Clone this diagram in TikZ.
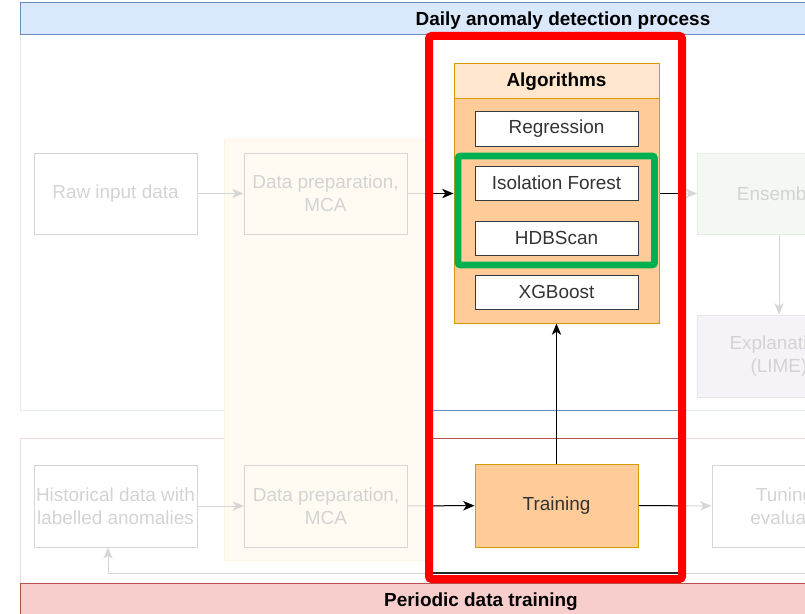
\documentclass[tikz,border=0pt]{standalone}
\usepackage{fontspec}
\setmainfont{Liberation Sans}
\usetikzlibrary{arrows.meta}

% palette
\definecolor{hdrblue}{HTML}{DAE8FC}
\definecolor{lineblue}{HTML}{6C8EBF}
\definecolor{hdrred}{HTML}{F8CECC}
\definecolor{linered}{HTML}{B85450}
\definecolor{orgfill}{HTML}{FFCC99}
\definecolor{orghead}{HTML}{FFE6CC}
\definecolor{orgline}{HTML}{D79B00}
\definecolor{boxline}{HTML}{36393D}
\definecolor{txt}{HTML}{333333}
\definecolor{hlgreen}{HTML}{00B050}
\definecolor{hlred}{HTML}{FF0000}
\definecolor{fadeline}{HTML}{D6D6D6}
\definecolor{fadetext}{HTML}{D3D3D3}
\definecolor{fadeblue}{HTML}{E2E9F4}
\definecolor{fadered}{HTML}{F3DADA}
\definecolor{laneFill}{HTML}{FFFBF2}
\definecolor{laneLine}{HTML}{FCF4E0}
\definecolor{ensFill}{HTML}{F3F8F2}
\definecolor{ensLine}{HTML}{E5EEE3}
\definecolor{limeFill}{HTML}{F6F3F8}
\definecolor{limeLine}{HTML}{EAE6ED}

% lengths given in pixel units of the drawing grid
\newcommand\pxl[1]{#1*0.75pt}

\begin{document}
\begin{tikzpicture}[
  x=0.75pt, y=-0.75pt,
  font=\fontsize{14.2}{17}\selectfont,
  every node/.style={inner sep=0pt, align=center},
  tipstyle/.style={-{Stealth[length=8.5pt,width=7pt,inset=2.4pt]}},
  procbox/.style={draw=fadeline, line width=0.75pt, text=fadetext,
    minimum width={\pxl{163}}, minimum height={\pxl{81}}},
  algbox/.style={draw=boxline, fill=white, line width=0.75pt, text=txt,
    minimum width={\pxl{163}}, minimum height={\pxl{34}}},
  fadearrow/.style={draw=fadeline, line width=0.75pt, tipstyle},
  fullarrow/.style={draw=black, line width=0.75pt, tipstyle},
  fadelink/.style={draw=fadeline, line width=0.75pt},
  fulllink/.style={draw=black!85, line width=0.9pt},
]
\clip (0,0) rectangle (805,613);

% ---- swimlane containers ----
\draw[fadeblue, line width=0.75pt] (20,35) -- (20,410) -- (1106,410);
\draw[fill=hdrblue, draw=lineblue, line width=0.75pt] (20,3) rectangle (1106,35);
\node (dailyTitle) at (563,21) {\bfseries Daily anomaly detection process};

\draw[fadered, line width=0.75pt] (20,583) -- (20,438) -- (942,438);
\draw[fill=hdrred, draw=linered, line width=0.75pt] (20,583) rectangle (942,640);
\node (periodicTitle) at (481,602) {\bfseries Periodic data training};

% data preparation lane
\draw[fill=laneFill, draw=laneLine, line width=0.75pt] (224,139) rectangle (428,560);

% ---- process steps ----
\node[procbox] (raw)   at (115.5,193.5) {Raw input data};
\node[procbox] (prepA) at (325.5,193.5) {Data preparation,\\MCA};
\node[procbox, fill=ensFill, draw=ensLine] (ens) at (779,193.5) {Ensemble};
\node[procbox, fill=limeFill, draw=limeLine, minimum height={\pxl{82}}] (lime) at (779,356) {Explanation\\(LIME)};
\node[procbox, minimum height={\pxl{82}}] (hist)  at (115.5,506) {Historical data with\\labelled anomalies};
\node[procbox, minimum height={\pxl{82}}] (prepB) at (326,506) {Data preparation,\\MCA};
\node[procbox, minimum height={\pxl{82}}] (tune)  at (793.5,506) {Tuning \&\\evaluation};

% algorithms group
\node[draw=orgline, fill=orgfill, line width=0.75pt,
      minimum width={\pxl{205}}, minimum height={\pxl{259}}] (algs) at (556.5,193.5) {};
\node[draw=orgline, fill=orghead, line width=0.75pt,
      minimum width={\pxl{205}}, minimum height={\pxl{35}}] (algHead) at (556.5,81.5) {\bfseries Algorithms};
\node[algbox] (reg) at (556.5,129) {Regression};
\node[algbox] (iso) at (556.5,183) {Isolation Forest};
\node[algbox] (hdb) at (556.5,238) {HDBScan};
\node[algbox] (xgb) at (556.5,292) {XGBoost};

\node[draw=orgline, fill=orgfill, line width=0.75pt, text=txt,
      minimum width={\pxl{163}}, minimum height={\pxl{83}}] (train) at (556.5,505.5) {Training};

% ---- connectors (faded) ----
\coordinate (fbStart)  at (830,573);
\coordinate (fbCorner) at (108,573);
\draw[fadearrow] (raw) -- (prepA);
\draw[fadearrow] (prepA.east) -- (algs.west |- prepA);
\draw[fadearrow] (algs.east |- ens) -- (ens.west);
\draw[fadearrow] (ens) -- (lime);
\draw[fadearrow] (hist) -- (prepB);
\draw[fadearrow] (prepB) -- (train);
\draw[fadearrow] (train) -- (tune);
\draw[fadearrow] (fbStart) -- (fbCorner) -- (fbCorner |- hist.south);

% ---- full-colour parts inside the highlight ----
\begin{scope}
  \clip (433,40) rectangle (678,575);
  \draw[lineblue, line width=0.75pt] (20,410) -- (1106,410);
  \draw[linered, line width=0.75pt] (20,438) -- (942,438);
  \draw[fullarrow] (prepA.east) -- (algs.west |- prepA);
  \draw[fullarrow] (algs.east |- ens) -- (ens.west);
  \draw[fullarrow] (prepB) -- (train);
  \draw[fullarrow] (train) -- (tune);
  \draw[fulllink] (fbStart) -- (fbCorner);
\end{scope}
\draw[fullarrow] (train) -- (algs);

% ---- highlight frames ----
\draw[hlgreen, line width=5.2pt, rounded corners=2pt] (458,156) rectangle (654.5,265);
\draw[hlred, line width=6pt, rounded corners=2pt] (429,36) rectangle (682,579);
\end{tikzpicture}
\end{document}
